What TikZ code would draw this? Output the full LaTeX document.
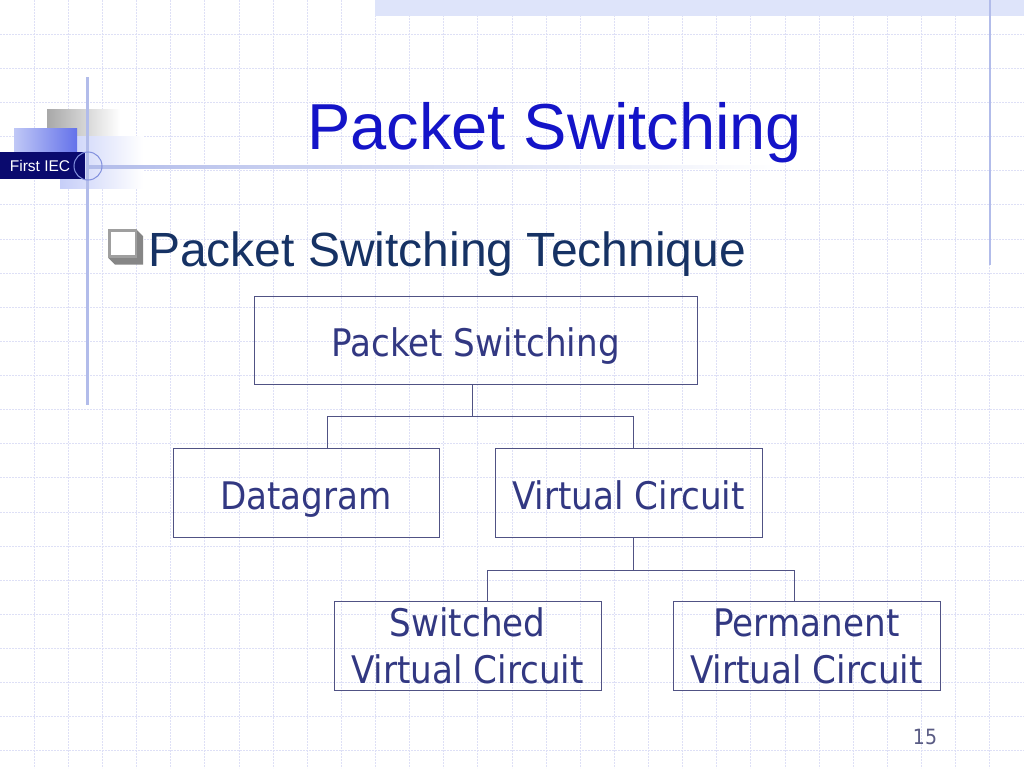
\documentclass[tikz,border=0pt]{standalone}
\usepackage{fontspec}
\setmainfont{Liberation Sans}
\newfontfamily\boxfont[FakeStretch=0.9]{DejaVu Sans}
\usetikzlibrary{positioning,calc}
\definecolor{gridc}{RGB}{222,224,246}
\definecolor{bandc}{RGB}{222,228,250}
\definecolor{decoc}{RGB}{178,188,234}
\definecolor{navyc}{RGB}{10,10,110}
\definecolor{paleblue}{RGB}{198,206,248}
\definecolor{logogray}{RGB}{168,168,168}
\definecolor{logogray2}{RGB}{182,182,182}
\definecolor{logoblue1}{RGB}{192,200,246}
\definecolor{logoblue2}{RGB}{100,114,234}
\definecolor{ringc}{RGB}{130,144,222}
\definecolor{titlec}{RGB}{20,20,200}
\definecolor{bulletc}{RGB}{22,50,100}
\definecolor{boxtext}{RGB}{50,56,130}
\definecolor{boxc}{RGB}{80,82,132}
\definecolor{numc}{RGB}{90,92,132}

\begin{document}
\begin{tikzpicture}[x=1pt, y=-1pt, gridline/.style = {gridc, line width=0.8pt, dash pattern=on 2pt off 1pt},
                    box/.style = {draw=boxc, line width=1pt, inner sep=0pt, outer sep=0pt, minimum width=266pt, minimum height=89pt, text=boxtext, align=center, font=\boxfont\fontsize{38}{46.5}\selectfont},
                    onerow/.style = {text height=36pt, text depth=3pt},
                    link/.style = {draw=boxc, line width=1pt}]
                    \useasboundingbox (0,0) rectangle (1024,768);
                    \fill[white] (0,0) rectangle (1024,768);
                    % background grid and frame
                    \foreach \k in {1,...,29} \draw[gridline] (\k*34.13,0) -- (\k*34.13,768);
                    \foreach \k in {1,...,22} \draw[gridline] (0,\k*34.13) -- (1024,\k*34.13);
                    \fill[bandc] (375,0) rectangle (1024,16);
                    \draw[decoc, line width=2pt] (990,0) -- (990,265);
                    % corner logo
                    \shade[left color=paleblue, right color=white] (60,136) rectangle (143,188);
                    \shade[left color=logogray, middle color=logogray2, right color=white] (47,109) rectangle (120,135);
                    \shade[left color=logoblue1, right color=logoblue2] (14,128) rectangle (77,152);
                    \fill[navyc] (0,152) rectangle (85,179);
                    \shade[left color=decoc, middle color=decoc!70, right color=white] (87,165.5) rectangle (780,168.5);
                    \draw[decoc, line width=3pt] (87,77) -- (87,405);
                    \draw[ringc, line width=1pt] (88,166) circle (14);
                    \node[text=white, font=\fontsize{15.5}{15.5}\selectfont, inner sep=0pt] (tag) at (40,166) {First IEC};
                    % title and bullet
                    \node[text=titlec, font=\fontsize{65}{65}\selectfont, anchor=base, inner sep=0pt] (title) at (554.5,149) {Packet Switching};
                    \fill[gray!95] (136,229) -- (143,236) -- (143,264.5) -- (115,264.5) -- (108,257.5) -- cycle;
                    \draw[gray!75, fill=white, line width=2.5pt] (109.25,230.25) rectangle (135.75,256.25);
                    \node[text=bulletc, font=\fontsize{48}{48}\selectfont, anchor=base west, inner sep=0pt] (bul) at (148,266) {Packet Switching Technique};
                    % tree
                    \node[box, onerow, minimum width=443pt, minimum height=88pt] (ps) at (475.5,340) {Packet Switching};
                    \node[box, onerow] (dg) at (306,492.5) {Datagram};
                    \node[box, onerow, minimum width=267pt] (vc) [right=56pt of dg] {Virtual Circuit};
                    \node[box, minimum width=267pt] (svc) at (467.5,645.5) {\rule{0pt}{30pt}Switched\\Virtual Circuit};
                    \node[box, minimum width=267pt] (pvc) [right=72pt of svc] {\rule{0pt}{30pt}Permanent\\Virtual Circuit};
                    \draw[link] ($(ps.south)+(-3.5,0)$) -- ++(0,32) -| ($(dg.north)+(21,0)$);
                    \draw[link] ($(ps.south)+(-3.5,32)$) -| ($(vc.north)+(4.5,0)$);
                    \draw[link] ($(vc.south)+(4.5,0)$) -- ++(0,33) -| ($(svc.north)+(19.5,0)$);
                    \draw[link] ($(vc.south)+(4.5,33)$) -| ($(pvc.north)+(-12.5,0)$);
                    \node[text=numc, font=\boxfont\fontsize{21}{21}\selectfont] (pg) at (925,737) {15};
                \end{tikzpicture}
\end{document}
